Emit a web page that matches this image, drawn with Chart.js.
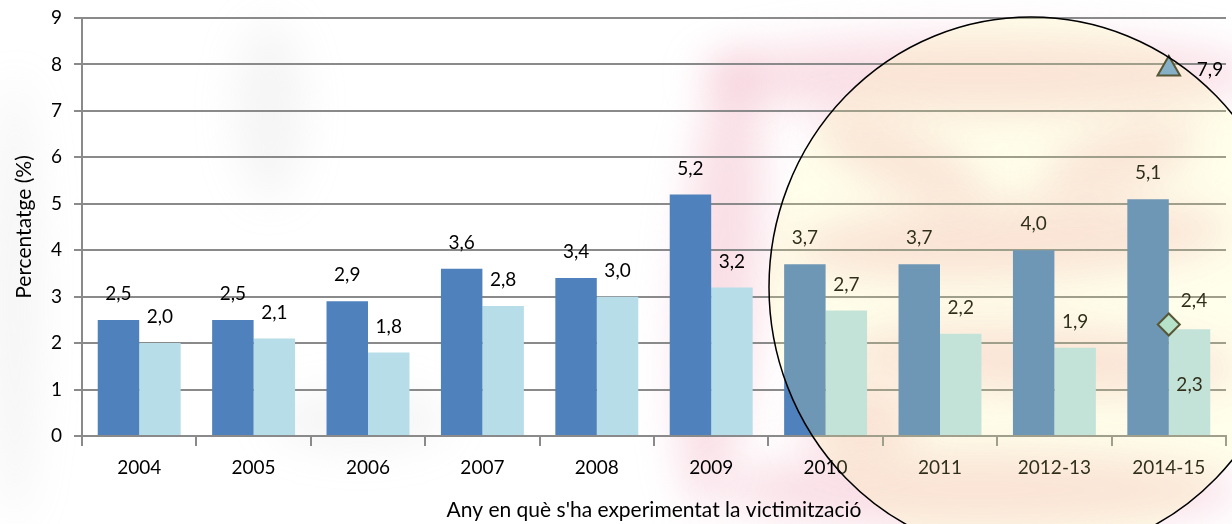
<!DOCTYPE html>
<html>
<head>
<meta charset="utf-8">
<script src="https://cdn.jsdelivr.net/npm/chart.js@4.4.1/dist/chart.umd.min.js"></script>
<style>
  html, body { margin: 0; padding: 0; background: #fff; }
  #wrap { width: 1232px; height: 524px; position: relative; }
</style>
</head>
<body>
<div id="wrap"><canvas id="myChart"></canvas></div>
<script>
// data
const years = ['2004', '2005', '2006', '2007', '2008', '2009', '2010', '2011', '2012-13', '2014-15'];
const serieFosca = [2.5, 2.5, 2.9, 3.6, 3.4, 5.2, 3.7, 3.7, 4.0, 5.1];
const serieClara = [2.0, 2.1, 1.8, 2.8, 3.0, 3.2, 2.7, 2.2, 1.9, 2.3];
const triangle = [null, null, null, null, null, null, null, null, null, 7.9];
const diamond = [null, null, null, null, null, null, null, null, null, 2.4];
const yTicks = [0, 1, 2, 3, 4, 5, 6, 7, 8, 9];

const font = 'Lato, "Open Sans", sans-serif';
const fmt = v => v.toFixed(1).replace('.', ',');

// faint background watermark
const watermark = {
  id: 'watermark',
  beforeDraw(chart) {
    const ctx = chart.ctx;
    ctx.save();
    ctx.filter = 'blur(20px)';
    ctx.fillStyle = 'rgba(240,170,188,0.38)';
    const blobs = [
      [720, 280, 40, 230, 0.08],
      [980, 75, 280, 40, 0],
      [1010, 240, 220, 40, -0.05],
      [1040, 360, 200, 35, 0.05],
      [980, 490, 260, 40, 0],
      [900, 160, 90, 30, 0.4],
      [1120, 160, 80, 30, -0.3],
      [860, 420, 60, 40, 0]
    ];
    blobs.forEach(b => {
      ctx.beginPath();
      ctx.ellipse(b[0], b[1], b[2], b[3], b[4], 0, Math.PI * 2);
      ctx.fill();
    });
    ctx.fillStyle = 'rgba(190,190,190,0.16)';
    [[15, 300, 25, 220], [270, 110, 35, 90], [360, 420, 90, 30]].forEach(b => {
      ctx.beginPath();
      ctx.ellipse(b[0], b[1], b[2], b[3], 0, 0, Math.PI * 2);
      ctx.fill();
    });
    ctx.restore();
  }
};

// value labels on bars and markers
const labels = {
  id: 'labels',
  afterDatasetsDraw(chart) {
    const ctx = chart.ctx;
    ctx.save();
    ctx.font = '19px ' + font;
    ctx.fillStyle = '#000';
    ctx.textAlign = 'center';
    ctx.textBaseline = 'middle';
    [0, 1].forEach(di => {
      chart.getDatasetMeta(di).data.forEach((bar, i) => {
        const v = chart.data.datasets[di].data[i];
        let y = bar.y - 26;
        if (di === 1 && diamond[i] != null) y = bar.y + 56;
        ctx.fillText(fmt(v), bar.x, y);
      });
    });
    ctx.textAlign = 'left';
    chart.getDatasetMeta(2).data.forEach((p, i) => {
      if (triangle[i] != null) ctx.fillText(fmt(triangle[i]), p.x + 28, p.y + 1);
    });
    chart.getDatasetMeta(3).data.forEach((p, i) => {
      if (diamond[i] != null) ctx.fillText(fmt(diamond[i]), p.x + 12, p.y - 24);
    });
    ctx.restore();
  }
};

// circle highlight over the last years
const lupa = {
  id: 'lupa',
  afterDraw(chart) {
    const ctx = chart.ctx;
    ctx.save();
    ctx.beginPath();
    ctx.ellipse(1031, 287, 262, 270, 0, 0, Math.PI * 2);
    ctx.fillStyle = 'rgba(255,255,144,0.18)';
    ctx.fill();
    ctx.lineWidth = 1.5;
    ctx.strokeStyle = '#000';
    ctx.stroke();
    ctx.restore();
  }
};

const ctx = document.getElementById('myChart');

new Chart(ctx, {
  type: 'bar',
  data: {
    labels: years,
    datasets: [{
      data: serieFosca,
      backgroundColor: '#4f81bd',
      borderWidth: 0,
      order: 2
    }, {
      data: serieClara,
      backgroundColor: '#b7dde8',
      borderWidth: 0,
      order: 2
    }, {
      type: 'line',
      data: triangle,
      showLine: false,
      pointStyle: 'triangle',
      pointRadius: 13,
      backgroundColor: '#6c9fd2',
      borderColor: '#333322',
      borderWidth: 2,
      clip: false,
      order: 1
    }, {
      type: 'line',
      data: diamond,
      showLine: false,
      pointStyle: 'rectRot',
      pointRadius: 11,
      backgroundColor: '#a6dcd6',
      borderColor: '#333322',
      borderWidth: 2,
      clip: false,
      order: 1
    }]
  },
  options: {
    responsive: true,
    maintainAspectRatio: false,
    animation: false,
    layout: { autoPadding: false, padding: { top: 18, right: 6, left: 0, bottom: 0 } },
    datasets: {
      bar: { categoryPercentage: 0.725, barPercentage: 1 }
    },
    plugins: {
      legend: { display: false },
      tooltip: { enabled: false }
    },
    scales: {
      x: {
        offset: true,
        grid: { display: true, drawOnChartArea: false, offset: true, color: '#8a8a8a', lineWidth: 2, tickLength: 10 },
        border: { color: '#8a8a8a', width: 2 },
        ticks: { color: '#000', font: { family: font, size: 19 }, padding: 10, maxRotation: 0 },
        title: { display: true, text: "Any en què s'ha experimentat la victimització", color: '#000', font: { family: font, size: 21 }, padding: { top: 4, bottom: 1 } },
        afterFit(scale) {
          scale.height = 88;
          scale.paddingLeft = 0;
          scale.paddingRight = 0;
        }
      },
      y: {
        min: 0,
        max: 9,
        afterBuildTicks(scale) { scale.ticks = yTicks.map(v => ({ value: v })); },
        grid: { color: '#8a8a8a', lineWidth: 2, tickLength: 8 },
        border: { color: '#8a8a8a', width: 2 },
        ticks: { color: '#000', font: { family: font, size: 19 }, padding: 12 },
        title: { display: true, text: 'Percentatge (%)', color: '#000', font: { family: font, size: 21 }, padding: { top: 12, bottom: 0 } },
        afterFit(scale) {
          scale.width = 82;
          scale.paddingTop = 0;
          scale.paddingBottom = 0;
        }
      }
    }
  },
  plugins: [watermark, labels, lupa]
});
</script>
</body>
</html>
